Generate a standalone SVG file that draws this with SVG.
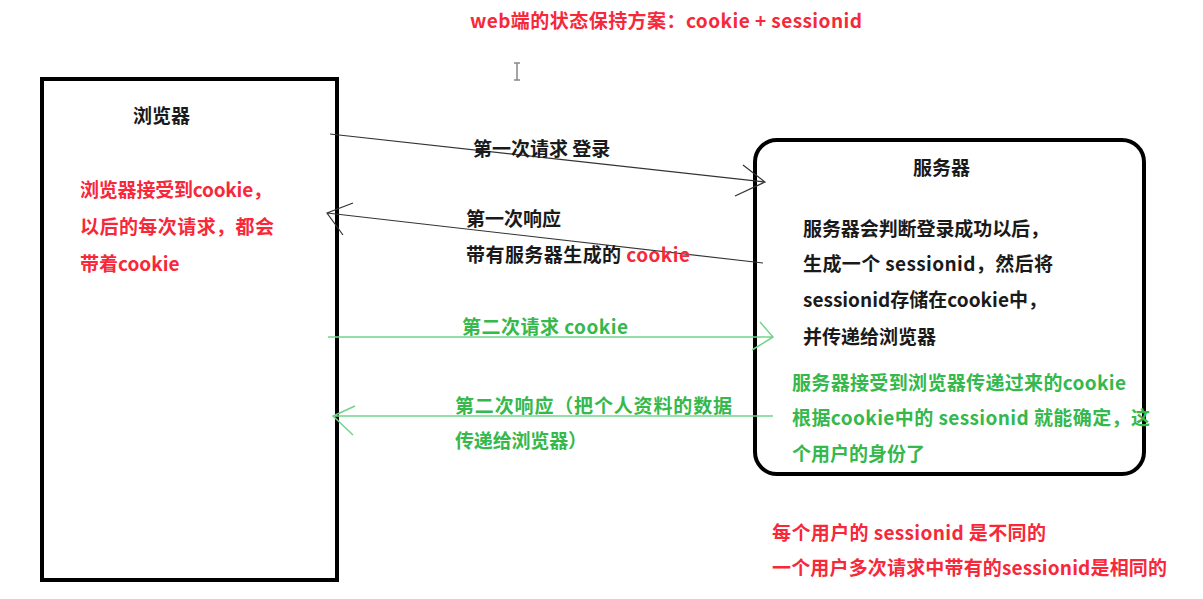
<svg xmlns="http://www.w3.org/2000/svg" width="1203" height="599" viewBox="0 0 1203 599">
<style>
text{font-family:"Noto Sans CJK SC","Liberation Sans",sans-serif;font-weight:bold;font-size:19px}
.k{fill:#1a1a1a}
.r{fill:#f7283a}
.g{fill:#35b84c}
.box{fill:none;stroke:#000;stroke-width:4}
.lk{fill:none;stroke:#333;stroke-width:1.2}
.lg{fill:none;stroke:#72d48a;stroke-width:1.5}
</style>
<rect width="1203" height="599" fill="#fff"/>
<text class="r" x="470" y="28" textLength="392" lengthAdjust="spacing">web端的状态保持方案：cookie + sessionid</text>
<g id="cursor" stroke="#888" stroke-width="1.5" fill="none"><path d="M514 63h6M517 63v17M514 80h6"/></g>
<g id="browser">
<rect class="box" x="42" y="79" width="295" height="501"/>
<text class="k" x="133" y="123">浏览器</text>
<text class="r" x="80" y="197" textLength="192" lengthAdjust="spacing">浏览器接受到cookie，</text>
<text class="r" x="80" y="234" textLength="194" lengthAdjust="spacing">以后的每次请求，都会</text>
<text class="r" x="80" y="271">带着cookie</text>
</g>
<g id="server">
<rect class="box" x="755" y="140" width="389" height="334" rx="22"/>
<text class="k" x="913" y="175">服务器</text>
<text class="k" x="803" y="236" textLength="246" lengthAdjust="spacing">服务器会判断登录成功以后，</text>
<text class="k" x="803" y="271" textLength="250" lengthAdjust="spacing">生成一个 sessionid，然后将</text>
<text class="k" x="803" y="307" textLength="244" lengthAdjust="spacing">sessionid存储在cookie中，</text>
<text class="k" x="803" y="344">并传递给浏览器</text>
<text class="g" x="792" y="390" textLength="334" lengthAdjust="spacing">服务器接受到浏览器传递过来的cookie</text>
<text class="g" x="792" y="425" textLength="358" lengthAdjust="spacing">根据cookie中的 sessionid 就能确定，这</text>
<text class="g" x="792" y="461">个用户的身份了</text>
</g>
<g id="notes">
<text class="r" x="772" y="540" textLength="274" lengthAdjust="spacing">每个用户的 sessionid 是不同的</text>
<text class="r" x="772" y="575" textLength="395" lengthAdjust="spacing">一个用户多次请求中带有的sessionid是相同的</text>
</g>
<g id="connectors">
<path class="lk" d="M330 134L765 182M743 165L765 182L735 196"/>
<path class="lk" d="M763 263L327 213M353 203L327 213L343 235"/>
<path class="lg" d="M328 337H773M760 322L773 337L752 350"/>
<path class="lg" d="M773 416H333M355 406L333 416L353 435"/>
</g>
<g id="labels">
<text class="k" x="473" y="156">第一次请求 登录</text>
<text class="k" x="466" y="226">第一次响应</text>
<text class="k" x="466" y="262" textLength="224" lengthAdjust="spacing">带有服务器生成的 <tspan class="r">cookie</tspan></text>
<text class="g" x="462" y="334" textLength="166" lengthAdjust="spacing">第二次请求 cookie</text>
<text class="g" x="455" y="413" textLength="277" lengthAdjust="spacing">第二次响应（把个人资料的数据</text>
<text class="g" x="455" y="448" textLength="132" lengthAdjust="spacing">传递给浏览器）</text>
</g>
</svg>
